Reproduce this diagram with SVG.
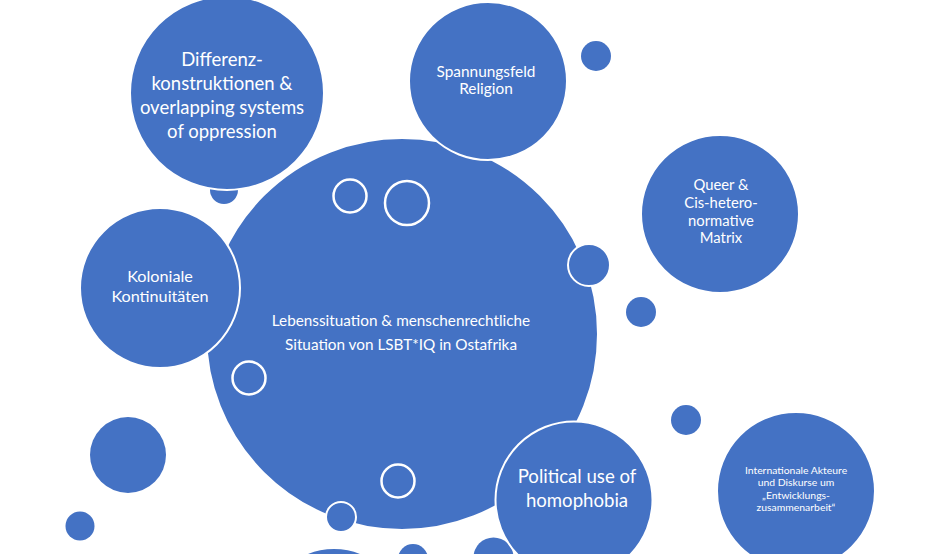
<svg xmlns="http://www.w3.org/2000/svg" width="944" height="554" viewBox="0 0 944 554">
  <style>
    .b { fill: #4472C4; stroke: #FFFFFF; stroke-width: 2; }
    .nb { fill: #4472C4; stroke: none; }
    .ring { fill: #4472C4; stroke: #FFFFFF; stroke-width: 2.5; }
    text { font-family: Lato, "Liberation Sans", Arial, sans-serif; fill: #FFFFFF; text-anchor: middle; }
  </style>
  <rect x="0" y="0" width="944" height="554" fill="#FFFFFF"/>

  <g id="decor-back">
    <circle class="nb" cx="224" cy="190" r="14"/>
    <circle class="nb" cx="596" cy="56" r="15"/>
    <circle class="nb" cx="641" cy="312" r="15"/>
    <circle class="nb" cx="686" cy="420" r="15"/>
    <circle class="nb" cx="128" cy="455" r="38"/>
    <circle class="nb" cx="80" cy="526" r="14.5"/>
    <circle class="nb" cx="334" cy="619" r="70"/>
    <circle class="nb" cx="413" cy="559" r="15"/>
    <circle class="nb" cx="493.5" cy="557.5" r="20"/>
  </g>

  <g id="node-main">
    <circle class="b" cx="402" cy="334" r="196"/>
    <circle class="ring" cx="350" cy="196" r="16.5"/>
    <circle class="ring" cx="407" cy="203" r="22"/>
    <circle class="ring" cx="249" cy="378" r="16.5"/>
    <circle class="ring" cx="398" cy="481" r="16.5"/>
    <text font-size="15.3" x="401" y="326">Lebenssituation &amp; menschenrechtliche</text>
    <text font-size="15.3" x="401" y="350">Situation von LSBT*IQ in Ostafrika</text>
  </g>

  <g id="decor-front">
    <circle class="b" cx="589" cy="265" r="21"/>
    <circle class="b" cx="341" cy="517" r="15"/>
  </g>

  <g id="node-differenz">
    <circle class="b" cx="227" cy="93" r="97"/>
    <text font-size="18.5" x="222" y="66">Differenz-</text>
    <text font-size="18.5" x="222" y="90">konstruktionen &amp;</text>
    <text font-size="18.5" x="222" y="114">overlapping systems</text>
    <text font-size="18.5" x="222" y="138">of oppression</text>
  </g>

  <g id="node-religion">
    <circle class="b" cx="488" cy="81" r="79"/>
    <text font-size="15.4" x="486" y="77">Spannungsfeld</text>
    <text font-size="15.4" x="486" y="94">Religion</text>
  </g>

  <g id="node-queer">
    <circle class="b" cx="720" cy="214" r="79"/>
    <text font-size="14.8" x="721" y="190">Queer &amp;</text>
    <text font-size="14.8" x="721" y="208">Cis-hetero-</text>
    <text font-size="14.8" x="721" y="226">normative</text>
    <text font-size="14.8" x="721" y="243">Matrix</text>
  </g>

  <g id="node-kolonial">
    <circle class="b" cx="160" cy="288" r="80"/>
    <text font-size="16.2" x="160" y="282">Koloniale</text>
    <text font-size="16.2" x="160" y="302">Kontinuitäten</text>
  </g>

  <g id="node-political">
    <circle class="b" cx="574" cy="500" r="78.5"/>
    <text font-size="18.6" x="577" y="483">Political use of</text>
    <text font-size="18.6" x="577" y="507">homophobia</text>
  </g>

  <g id="node-international">
    <circle class="b" cx="796" cy="491" r="79"/>
    <text font-size="10.4" x="796" y="474">Internationale Akteure</text>
    <text font-size="10.4" x="796" y="486">und Diskurse um</text>
    <text font-size="10.4" x="796" y="499">„Entwicklungs-</text>
    <text font-size="10.4" x="796" y="511">zusammenarbeit“</text>
  </g>

  <g id="connectors"/>
</svg>
